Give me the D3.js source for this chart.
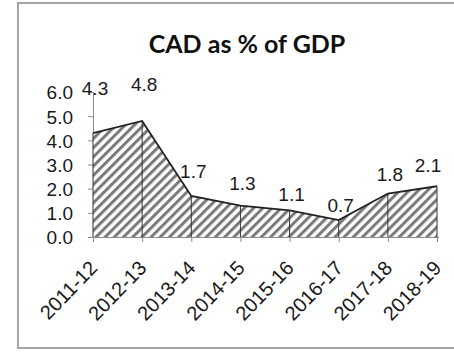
<!DOCTYPE html>
<html lang="en">
<head>
  <meta charset="UTF-8" />
  <title>CAD as % of GDP</title>
  <script src="https://d3js.org/d3.v7.min.js"></script>
  <style>
    html, body { margin: 0; padding: 0; background: #fff; overflow: hidden; }
    svg { display: block; }
    .axis-label { font-family: 'Liberation Sans', Arial, sans-serif; font-size: 19px; fill: #1a1a1a; }
    .data-label { font-family: 'Liberation Sans', Arial, sans-serif; font-size: 19px; fill: #1a1a1a; }
    .title { font-family: Lato, 'Open Sans', sans-serif; font-weight: 700; font-size: 25px; fill: #111; }
  </style>
</head>
<body>
  <div id="chart"></div>
  <script>
    // data
    const years = ["2011-12", "2012-13", "2013-14", "2014-15", "2015-16", "2016-17", "2017-18", "2018-19"];
    const cad = [4.3, 4.8, 1.7, 1.3, 1.1, 0.7, 1.8, 2.1];
    const yTicks = [0, 1, 2, 3, 4, 5, 6];

    const W = 454, H = 352;
    const plot = { left: 93, right: 437, top: 92, bottom: 237 };
    // label nudges (px above the point), the source had them hand placed
    const labelLift = [38, 30, 18, 16, 9, 8, 13, 14];

    const svg = d3.select("#chart").append("svg")
      .attr("width", W)
      .attr("height", H);

    // outer frame
    svg.append("rect")
      .attr("x", 18).attr("y", 3)
      .attr("width", W + 10).attr("height", 345)
      .attr("fill", "#fff")
      .attr("stroke", "#a6a6a6")
      .attr("stroke-width", 2);

    const defs = svg.append("defs");
    const pat = defs.append("pattern")
      .attr("id", "hatch")
      .attr("patternUnits", "userSpaceOnUse")
      .attr("width", 6.5).attr("height", 6.5)
      .attr("patternTransform", "rotate(45)");
    pat.append("rect").attr("width", 6.5).attr("height", 6.5).attr("fill", "#fff");
    pat.append("rect").attr("x", 0).attr("width", 3).attr("height", 6.5).attr("fill", "#7a7a7a");

    const x = d3.scalePoint().domain(years).range([plot.left, plot.right]);
    const y = d3.scaleLinear().domain([0, 6]).range([plot.bottom, plot.top]);

    svg.append("text")
      .attr("class", "title")
      .attr("x", 247).attr("y", 53)
      .attr("text-anchor", "middle")
      .text("CAD as % of GDP");

    // y axis
    const yAxis = svg.append("g")
      .attr("transform", `translate(${plot.left},0)`)
      .call(d3.axisLeft(y).tickValues(yTicks).tickSize(5).tickFormat(d3.format(".1f")));
    yAxis.select(".domain").attr("stroke", "#8c8c8c");
    yAxis.selectAll(".tick line").attr("stroke", "#8c8c8c");
    yAxis.selectAll(".tick text")
      .attr("class", "axis-label")
      .attr("x", -20)
      .attr("dy", "0.36em");

    // area
    const area = d3.area()
      .x((d, i) => x(years[i]))
      .y0(y(0))
      .y1(d => y(d));

    svg.append("path")
      .datum(cad)
      .attr("d", area)
      .attr("fill", "url(#hatch)");

    // drop lines at each category
    svg.selectAll(".drop")
      .data(cad)
      .join("line")
      .attr("class", "drop")
      .attr("x1", (d, i) => x(years[i]))
      .attr("x2", (d, i) => x(years[i]))
      .attr("y1", y(0))
      .attr("y2", d => y(d))
      .attr("stroke", "#333")
      .attr("stroke-width", 1);

    svg.append("path")
      .datum(cad)
      .attr("d", d3.line().x((d, i) => x(years[i])).y(d => y(d)))
      .attr("fill", "none")
      .attr("stroke", "#222")
      .attr("stroke-width", 1.8);

    // x axis
    const xAxis = svg.append("g")
      .attr("transform", `translate(0,${plot.bottom})`)
      .call(d3.axisBottom(x).tickSize(5).tickSizeOuter(0));
    xAxis.select(".domain").attr("stroke", "#8c8c8c").attr("d", `M${plot.left - 5},0.5H${plot.right + 2}`);
    xAxis.selectAll(".tick line").attr("stroke", "#8c8c8c");
    xAxis.selectAll(".tick text")
      .attr("class", "axis-label")
      .style("font-size", "20px")
      .attr("text-anchor", "end")
      .attr("x", 0).attr("y", 0).attr("dy", 0)
      .attr("transform", "translate(5,32) rotate(-46)");

    // data labels
    svg.selectAll(".data-label")
      .data(cad)
      .join("text")
      .attr("class", "data-label")
      .attr("text-anchor", "middle")
      .attr("x", (d, i) => Math.min(x(years[i]) + 2, 428))
      .attr("y", (d, i) => y(d) - labelLift[i])
      .text(d => d3.format(".1f")(d));
  </script>
</body>
</html>
